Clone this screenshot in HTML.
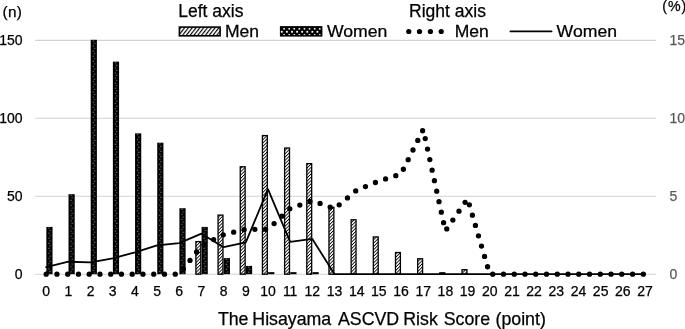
<!DOCTYPE html>
<html><head><meta charset="utf-8"><title>Hisayama ASCVD Risk Score</title>
<style>html,body{margin:0;padding:0;background:#fff;}svg{display:block;will-change:transform;}text{font-family:"Liberation Sans",sans-serif;stroke:#000;stroke-width:0.25px;}text.g{stroke:#595959;}</style></head>
<body>
<svg width="685" height="329" viewBox="0 0 685 329">
<defs>
<pattern id="hatch" width="2.33" height="2.33" patternUnits="userSpaceOnUse" patternTransform="rotate(-45)">
<rect width="2.33" height="2.33" fill="#fff"/><rect y="0" width="2.33" height="0.85" fill="#000"/>
</pattern>
<pattern id="dots" width="6" height="5.1" patternUnits="userSpaceOnUse">
<rect width="6" height="5.1" fill="#000"/><rect x="2.2" y="0.6" width="1" height="1" fill="#b0b0b0"/><rect x="3.3" y="3.15" width="1" height="1" fill="#b0b0b0"/>
</pattern>
<pattern id="hatchL" width="3" height="3" patternUnits="userSpaceOnUse" patternTransform="rotate(-52)">
<rect width="3" height="3" fill="#fff"/><rect y="0" width="3" height="1.15" fill="#000"/>
</pattern>
<pattern id="dotsL" width="5.3" height="5.6" patternUnits="userSpaceOnUse" x="280" y="27.3">
<rect width="5.3" height="5.6" fill="#000"/><rect x="0.8" y="0.9" width="1.1" height="1.1" fill="#fff"/><rect x="3.45" y="3.7" width="1.1" height="1.1" fill="#fff"/>
</pattern>
</defs>
<rect width="685" height="329" fill="#fff"/>
<line x1="35.1" x2="656.1" y1="274.20" y2="274.20" stroke="#d2d2d2" stroke-width="1.15"/>
<line x1="35.1" x2="656.1" y1="196.23" y2="196.23" stroke="#d2d2d2" stroke-width="1.15"/>
<line x1="35.1" x2="656.1" y1="118.27" y2="118.27" stroke="#d2d2d2" stroke-width="1.15"/>
<line x1="35.1" x2="656.1" y1="40.30" y2="40.30" stroke="#d2d2d2" stroke-width="1.15"/>
<g transform="translate(46.34,226.92)"><rect x="0" y="0" width="6.2" height="47.28" fill="url(#dots)"/></g>
<g transform="translate(68.52,194.17)"><rect x="0" y="0" width="6.2" height="80.03" fill="url(#dots)"/></g>
<g transform="translate(90.70,39.80)"><rect x="0" y="0" width="6.2" height="234.40" fill="url(#dots)"/></g>
<g transform="translate(112.88,61.63)"><rect x="0" y="0" width="6.2" height="212.57" fill="url(#dots)"/></g>
<g transform="translate(135.05,133.36)"><rect x="0" y="0" width="6.2" height="140.84" fill="url(#dots)"/></g>
<g transform="translate(157.23,142.72)"><rect x="0" y="0" width="6.2" height="131.48" fill="url(#dots)"/></g>
<g transform="translate(179.41,208.21)"><rect x="0" y="0" width="6.2" height="65.99" fill="url(#dots)"/></g>
<rect x="195.89" y="241.60" width="4.90" height="32.60" fill="url(#hatch)" stroke="#000" stroke-width="1.3"/>
<g transform="translate(201.59,226.92)"><rect x="0" y="0" width="6.2" height="47.28" fill="url(#dots)"/></g>
<rect x="218.07" y="215.10" width="4.90" height="59.10" fill="url(#hatch)" stroke="#000" stroke-width="1.3"/>
<g transform="translate(223.77,258.11)"><rect x="0" y="0" width="6.2" height="16.09" fill="url(#dots)"/></g>
<rect x="240.25" y="166.76" width="4.90" height="107.44" fill="url(#hatch)" stroke="#000" stroke-width="1.3"/>
<g transform="translate(245.95,265.90)"><rect x="0" y="0" width="6.2" height="8.30" fill="url(#dots)"/></g>
<rect x="262.42" y="135.57" width="4.90" height="138.63" fill="url(#hatch)" stroke="#000" stroke-width="1.3"/>
<rect x="268.12" y="272.14" width="6.2" height="2.06" fill="#000"/>
<rect x="284.60" y="148.04" width="4.90" height="126.16" fill="url(#hatch)" stroke="#000" stroke-width="1.3"/>
<rect x="290.30" y="272.14" width="6.2" height="2.06" fill="#000"/>
<rect x="306.78" y="163.64" width="4.90" height="110.56" fill="url(#hatch)" stroke="#000" stroke-width="1.3"/>
<rect x="312.48" y="272.14" width="6.2" height="2.06" fill="#000"/>
<rect x="328.96" y="207.30" width="4.90" height="66.90" fill="url(#hatch)" stroke="#000" stroke-width="1.3"/>
<rect x="351.14" y="219.77" width="4.90" height="54.43" fill="url(#hatch)" stroke="#000" stroke-width="1.3"/>
<rect x="373.32" y="236.93" width="4.90" height="37.27" fill="url(#hatch)" stroke="#000" stroke-width="1.3"/>
<rect x="395.50" y="252.52" width="4.90" height="21.68" fill="url(#hatch)" stroke="#000" stroke-width="1.3"/>
<rect x="417.68" y="258.76" width="4.90" height="15.44" fill="url(#hatch)" stroke="#000" stroke-width="1.3"/>
<rect x="439.20" y="272.14" width="6.2" height="2.06" fill="#000"/>
<rect x="462.03" y="269.67" width="4.90" height="4.53" fill="url(#hatch)" stroke="#000" stroke-width="1.3"/>
<polyline points="46.19,274.20 68.37,274.20 90.55,274.20 112.72,274.20 134.90,274.20 157.08,274.20 179.26,274.20 201.44,245.66 223.62,234.59 245.80,229.29 267.97,229.29 290.15,208.55 312.33,200.60 334.51,208.71 356.69,190.15 378.87,181.11 401.05,173.93 423.23,129.49 445.40,230.85 467.58,198.73 489.76,274.20 511.94,274.20 534.12,274.20 556.30,274.20 578.48,274.20 600.65,274.20 622.83,274.20 645.01,274.20" fill="none" stroke="#000" stroke-width="5.3" stroke-linecap="round" stroke-linejoin="round" stroke-dasharray="0 10.755"/>
<polyline points="46.19,267.18 68.37,261.73 90.55,262.35 112.72,258.29 134.90,252.37 157.08,245.35 179.26,243.17 201.44,233.66 223.62,247.22 245.80,242.39 267.97,189.22 290.15,241.92 312.33,238.96 334.51,274.20 356.69,274.20 378.87,274.20 401.05,274.20 423.23,274.20 445.40,274.20 467.58,274.20 489.76,274.20 511.94,274.20 534.12,274.20 556.30,274.20 578.48,274.20 600.65,274.20 622.83,274.20 645.01,274.20" fill="none" stroke="#000" stroke-width="1.8" stroke-linecap="round" stroke-linejoin="round"/>
<text x="22.6" y="278.90" font-size="14" text-anchor="end" fill="#000">0</text>
<text x="22.6" y="200.93" font-size="14" text-anchor="end" fill="#000">50</text>
<text x="22.6" y="122.97" font-size="14" text-anchor="end" fill="#000">100</text>
<text x="22.6" y="45.00" font-size="14" text-anchor="end" fill="#000">150</text>
<text x="669.4" y="278.90" font-size="14" class="g" fill="#595959">0</text>
<text x="669.4" y="200.93" font-size="14" class="g" fill="#595959">5</text>
<text x="669.4" y="122.97" font-size="14" class="g" fill="#595959">10</text>
<text x="669.4" y="45.00" font-size="14" class="g" fill="#595959">15</text>
<text x="2.6" y="16.6" font-size="15.3" letter-spacing="0.3" fill="#000">(n)</text>
<text x="662.3" y="11.2" font-size="14.2" letter-spacing="0.9" fill="#000">(%)</text>
<text x="46.19" y="296.3" font-size="14" text-anchor="middle" fill="#000">0</text>
<text x="68.37" y="296.3" font-size="14" text-anchor="middle" fill="#000">1</text>
<text x="90.55" y="296.3" font-size="14" text-anchor="middle" fill="#000">2</text>
<text x="112.72" y="296.3" font-size="14" text-anchor="middle" fill="#000">3</text>
<text x="134.90" y="296.3" font-size="14" text-anchor="middle" fill="#000">4</text>
<text x="157.08" y="296.3" font-size="14" text-anchor="middle" fill="#000">5</text>
<text x="179.26" y="296.3" font-size="14" text-anchor="middle" fill="#000">6</text>
<text x="201.44" y="296.3" font-size="14" text-anchor="middle" fill="#000">7</text>
<text x="223.62" y="296.3" font-size="14" text-anchor="middle" fill="#000">8</text>
<text x="245.80" y="296.3" font-size="14" text-anchor="middle" fill="#000">9</text>
<text x="267.97" y="296.3" font-size="14" text-anchor="middle" fill="#000">10</text>
<text x="290.15" y="296.3" font-size="14" text-anchor="middle" fill="#000">11</text>
<text x="312.33" y="296.3" font-size="14" text-anchor="middle" fill="#000">12</text>
<text x="334.51" y="296.3" font-size="14" text-anchor="middle" fill="#000">13</text>
<text x="356.69" y="296.3" font-size="14" text-anchor="middle" fill="#000">14</text>
<text x="378.87" y="296.3" font-size="14" text-anchor="middle" fill="#000">15</text>
<text x="401.05" y="296.3" font-size="14" text-anchor="middle" fill="#000">16</text>
<text x="423.23" y="296.3" font-size="14" text-anchor="middle" fill="#000">17</text>
<text x="445.40" y="296.3" font-size="14" text-anchor="middle" fill="#000">18</text>
<text x="467.58" y="296.3" font-size="14" text-anchor="middle" fill="#000">19</text>
<text x="489.76" y="296.3" font-size="14" text-anchor="middle" fill="#000">20</text>
<text x="511.94" y="296.3" font-size="14" text-anchor="middle" fill="#000">21</text>
<text x="534.12" y="296.3" font-size="14" text-anchor="middle" fill="#000">22</text>
<text x="556.30" y="296.3" font-size="14" text-anchor="middle" fill="#000">23</text>
<text x="578.48" y="296.3" font-size="14" text-anchor="middle" fill="#000">24</text>
<text x="600.65" y="296.3" font-size="14" text-anchor="middle" fill="#000">25</text>
<text x="622.83" y="296.3" font-size="14" text-anchor="middle" fill="#000">26</text>
<text x="645.01" y="296.3" font-size="14" text-anchor="middle" fill="#000">27</text>
<text x="217.90" y="324.9" font-size="17.75" fill="#000">The</text>
<text x="252.32" y="324.9" font-size="17.75" fill="#000">Hisayama</text>
<text x="337.98" y="324.9" font-size="17.75" fill="#000">ASCVD</text>
<text x="403.25" y="324.9" font-size="17.75" fill="#000">Risk</text>
<text x="443.76" y="324.9" font-size="17.75" fill="#000">Score</text>
<text x="495.49" y="324.9" font-size="17.75" fill="#000">(point)</text>
<text x="178.31" y="16.6" font-size="17.5" fill="#000">Left axis</text>
<text x="409.08" y="16.6" font-size="17.5" fill="#000">Right axis</text>
<text transform="translate(224.99,37.2) scale(1.02,1)" font-size="17.2" fill="#000">Men</text>
<text transform="translate(326.96,37.2) scale(1.025,1)" font-size="17.2" fill="#000">Women</text>
<text transform="translate(454.64,37.2) scale(1.02,1)" font-size="17.2" fill="#000">Men</text>
<text transform="translate(556.61,37.2) scale(1.025,1)" font-size="17.2" fill="#000">Women</text>
<rect x="179.4" y="27.1" width="40.7" height="8.7" fill="url(#hatchL)" stroke="#000" stroke-width="1.6"/>
<rect x="279.9" y="26.1" width="42.5" height="10.5" fill="#000"/>
<rect x="283.30" y="28.0" width="1.6" height="1.6" fill="#f0f0f0"/>
<rect x="280.90" y="30.9" width="1.8" height="1.8" fill="#fff"/>
<rect x="283.30" y="34.0" width="1.6" height="1.1" fill="#e0e0e0"/>
<rect x="288.39" y="28.0" width="1.6" height="1.6" fill="#f0f0f0"/>
<rect x="285.99" y="30.9" width="1.8" height="1.8" fill="#fff"/>
<rect x="288.39" y="34.0" width="1.6" height="1.1" fill="#e0e0e0"/>
<rect x="293.48" y="28.0" width="1.6" height="1.6" fill="#f0f0f0"/>
<rect x="291.08" y="30.9" width="1.8" height="1.8" fill="#fff"/>
<rect x="293.48" y="34.0" width="1.6" height="1.1" fill="#e0e0e0"/>
<rect x="298.57" y="28.0" width="1.6" height="1.6" fill="#f0f0f0"/>
<rect x="296.17" y="30.9" width="1.8" height="1.8" fill="#fff"/>
<rect x="298.57" y="34.0" width="1.6" height="1.1" fill="#e0e0e0"/>
<rect x="303.66" y="28.0" width="1.6" height="1.6" fill="#f0f0f0"/>
<rect x="301.26" y="30.9" width="1.8" height="1.8" fill="#fff"/>
<rect x="303.66" y="34.0" width="1.6" height="1.1" fill="#e0e0e0"/>
<rect x="308.75" y="28.0" width="1.6" height="1.6" fill="#f0f0f0"/>
<rect x="306.35" y="30.9" width="1.8" height="1.8" fill="#fff"/>
<rect x="308.75" y="34.0" width="1.6" height="1.1" fill="#e0e0e0"/>
<rect x="313.84" y="28.0" width="1.6" height="1.6" fill="#f0f0f0"/>
<rect x="311.44" y="30.9" width="1.8" height="1.8" fill="#fff"/>
<rect x="313.84" y="34.0" width="1.6" height="1.1" fill="#e0e0e0"/>
<rect x="318.93" y="28.0" width="1.6" height="1.6" fill="#f0f0f0"/>
<rect x="316.53" y="30.9" width="1.8" height="1.8" fill="#fff"/>
<rect x="318.93" y="34.0" width="1.6" height="1.1" fill="#e0e0e0"/>
<circle cx="408.8" cy="31.5" r="2.62" fill="#000"/>
<circle cx="419.5" cy="31.5" r="2.62" fill="#000"/>
<circle cx="430.4" cy="31.5" r="2.62" fill="#000"/>
<circle cx="441.2" cy="31.5" r="2.62" fill="#000"/>
<line x1="510.5" x2="551.5" y1="31.4" y2="31.4" stroke="#000" stroke-width="1.9" stroke-linecap="round"/>
</svg>
</body></html>
